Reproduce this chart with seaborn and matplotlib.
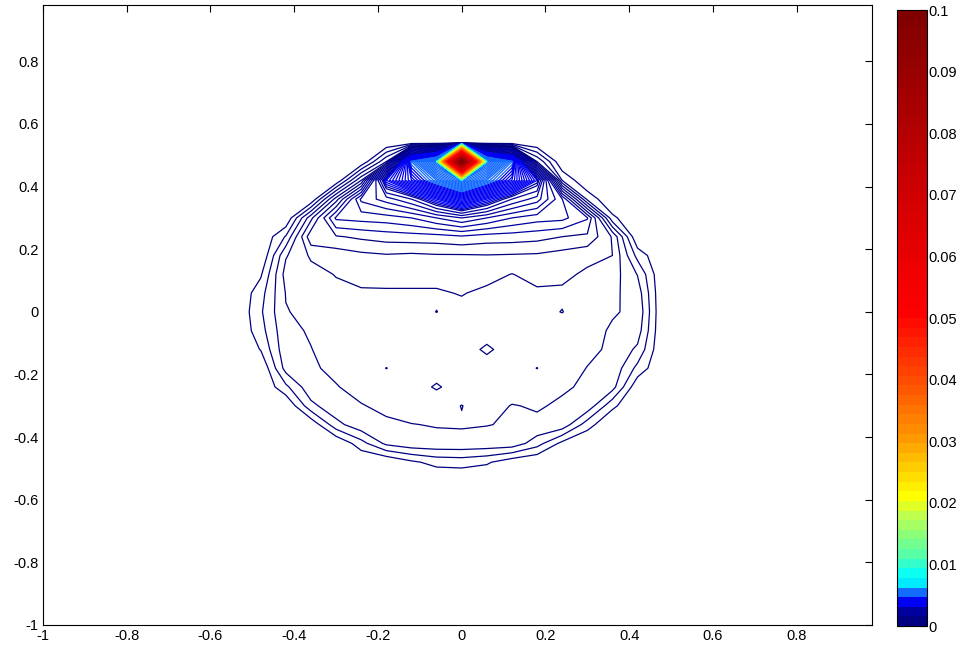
import numpy as np
import matplotlib
import matplotlib.pyplot as plt
import seaborn as sns
from matplotlib.colors import LinearSegmentedColormap, Normalize
from matplotlib.cm import ScalarMappable

sns.set_theme(style="white")
plt.rcParams['font.family'] = ['Liberation Sans', 'DejaVu Sans']
plt.rcParams['axes.unicode_minus'] = False

# grid nodes (columns left->right, rows top->bottom)
grid_x = [-0.54, -0.48, -0.42, -0.36, -0.30, -0.24, -0.18, -0.12, -0.06, 0.0,
          0.06, 0.12, 0.18, 0.24, 0.30, 0.36, 0.42, 0.48, 0.54]
grid_y = [0.54, 0.48, 0.42, 0.36, 0.30, 0.24, 0.18, 0.12, 0.06, 0.0,
          -0.06, -0.12, -0.18, -0.24, -0.30, -0.36, -0.42, -0.48, -0.54]

# field values in units of 1e-4
field_e4 = [
    [0, 0, 0, 0, 0, 0, 0, 0, 0, 0, 0, 0, 0, 0, 0, 0, 0, 0, 0],
    [0, 0, 0, 0, 0, 0, 8, 48, 62, 1000, 62, 48, 8, 0, 0, 0, 0, 0, 0],
    [0, 0, 0, 0, 0, 10, 34, 42, 50, 58, 50, 42, 32, 4, 0, 0, 0, 0, 0],
    [0, 0, 0, 0, 11.0, 22.5, 25, 28, 34, 40, 34, 28, 25, 18.1, 3.5, 0, 0, 0, 0],
    [0, 0, 0, 9.4, 18.4, 18.8, 19.1, 20, 22, 24, 22, 20, 18.9, 18.6, 16.2, 2.5, 0, 0, 0],
    [0, 0, 4.2, 13.4, 13.8, 14.4, 14.9, 15.1, 15.2, 15.7, 15.1, 15.0, 14.7, 14.0, 13.6, 9.8, 0, 0, 0],
    [0, 0, 7.8, 10.3, 10.9, 11.5, 11.8, 11.6, 11.8, 11.8, 11.9, 11.8, 11.7, 11.2, 10.5, 10.0, 3.3, 0, 0],
    [0, 1.7, 8.8, 9.3, 10.1, 10.5, 10.6, 10.6, 10.6, 10.6, 10.6, 9.95, 10.6, 10.4, 9.7, 9.0, 5.9, 0, 0],
    [0, 3.2, 8.1, 8.7, 9.5, 9.8, 9.8, 9.8, 9.8, 10.1, 9.6, 9.8, 9.7, 9.7, 9.2, 8.4, 7.1, 0, 0],
    [0, 3.7, 7.9, 8.5, 9.3, 9.5, 9.5, 9.5, 10.02, 9.5, 9.5, 9.5, 9.5, 10.05, 9.0, 8.15, 7.65, 0, 0],
    [0, 3.2, 7.5, 8.2, 9.0, 9.2, 9.2, 9.2, 9.2, 9.2, 9.2, 9.2, 9.2, 9.1, 8.6, 7.8, 7.0, 0, 0],
    [0, 2.1, 7.4, 7.95, 8.8, 9.2, 9.2, 9.2, 9.2, 9.2, 10.3, 9.2, 9.2, 9.0, 8.4, 7.7, 5.6, 0, 0],
    [0, 0, 6.8, 7.75, 8.4, 9.0, 10.03, 9.2, 9.2, 9.2, 9.2, 9.2, 10.03, 8.8, 7.95, 7.5, 3.4, 0, 0],
    [0, 0, 3.5, 7.45, 7.9, 8.6, 9.0, 9.2, 10.2, 9.2, 9.2, 9.1, 8.9, 8.25, 7.7, 6.8, 0.4, 0, 0],
    [0, 0, 0, 5.4, 7.5, 7.9, 8.4, 8.8, 8.9, 7.95, 8.9, 7.9, 8.2, 7.7, 7.4, 2.5, 0, 0, 0],
    [0, 0, 0, 0.4, 5.3, 7.4, 7.7, 7.95, 8.1, 8.15, 8.05, 7.85, 7.6, 7.4, 2.9, 0, 0, 0, 0],
    [0, 0, 0, 0, 0, 3.2, 6.5, 7.4, 7.5, 7.5, 7.4, 7.3, 4.9, 1.4, 0, 0, 0, 0, 0],
    [0, 0, 0, 0, 0, 0, 0, 1.6, 2.7, 2.9, 2.3, 0.7, 0, 0, 0, 0, 0, 0, 0],
    [0, 0, 0, 0, 0, 0, 0, 0, 0, 0, 0, 0, 0, 0, 0, 0, 0, 0, 0],
]

tick_vals = [-1, -0.8, -0.6, -0.4, -0.2, 0, 0.2, 0.4, 0.6, 0.8]
tick_labels = ["-1", "-0.8", "-0.6", "-0.4", "-0.2", "0", "0.2", "0.4", "0.6", "0.8"]
cbar_ticks = [0, 0.01, 0.02, 0.03, 0.04, 0.05, 0.06, 0.07, 0.08, 0.09, 0.1]
cbar_labels = ["0", "0.01", "0.02", "0.03", "0.04", "0.05", "0.06", "0.07", "0.08", "0.09", "0.1"]

# jet-like colormap as shown on the colorbar
cmap = LinearSegmentedColormap.from_list("mjet", [
    (0.0, (0.0, 0.0, 0.5)),
    (1 / 63, (0.0, 0.0, 0.62)),
    (2 / 63, (0.0, 0.0, 0.95)),
    (3 / 63, (0.08, 0.42, 1.0)),
    (4 / 63, (0.0, 0.92, 1.0)),
    (5 / 63, (0.05, 1.0, 0.95)),
    (7 / 63, (0.35, 1.0, 0.65)),
    (11 / 63, (0.75, 1.0, 0.3)),
    (13 / 63, (1.0, 1.0, 0.0)),
    (19 / 63, (1.0, 0.6, 0.0)),
    (25 / 63, (1.0, 0.3, 0.0)),
    (32 / 63, (1.0, 0.0, 0.0)),
    (44 / 63, (0.82, 0.0, 0.0)),
    (57 / 63, (0.6, 0.0, 0.0)),
    (1.0, (0.5, 0.0, 0.0)),
], N=64)
norm = Normalize(vmin=0, vmax=0.1)

Z = np.flipud(np.array(field_e4, dtype=float) * 1e-4)
X, Y = np.meshgrid(grid_x, grid_y[::-1])

fig = plt.figure(figsize=(9.61, 6.49), dpi=100)
fig.patch.set_facecolor('white')
ax = fig.add_axes([43 / 961, 24 / 649, 829 / 961, 620 / 649])
cax = fig.add_axes([897 / 961, 23 / 649, 30 / 961, 616 / 649])

# coarse levels for the low rings, finer ones towards the source
levels = np.concatenate([np.arange(2, 30, 2), np.arange(30, 1000, 1)]) * 1e-4
ax.contour(X, Y, Z, levels=levels, cmap=cmap, norm=norm, linewidths=0.9)

ax.set_xlim(-1, 0.98)
ax.set_ylim(-1, 0.98)
ax.set_xticks(tick_vals)
ax.set_xticklabels(tick_labels)
ax.set_yticks(tick_vals)
ax.set_yticklabels(tick_labels)
ax.tick_params(direction='in', length=5, width=0.8, top=True, right=True,
               labelsize=10.5, colors='black', pad=3)
for s in ax.spines.values():
    s.set_color('black')
    s.set_linewidth(0.8)
ax.set_facecolor('white')

cb = fig.colorbar(ScalarMappable(norm=norm, cmap=cmap), cax=cax, ticks=cbar_ticks)
cb.ax.set_yticklabels(cbar_labels)
cb.ax.tick_params(direction='in', left=True, right=True, length=5, width=0.8,
                  labelsize=10.5, colors='black', pad=1)
cb.outline.set_edgecolor('black')
cb.outline.set_linewidth(0.8)

fig.savefig("out.png", dpi=100)
